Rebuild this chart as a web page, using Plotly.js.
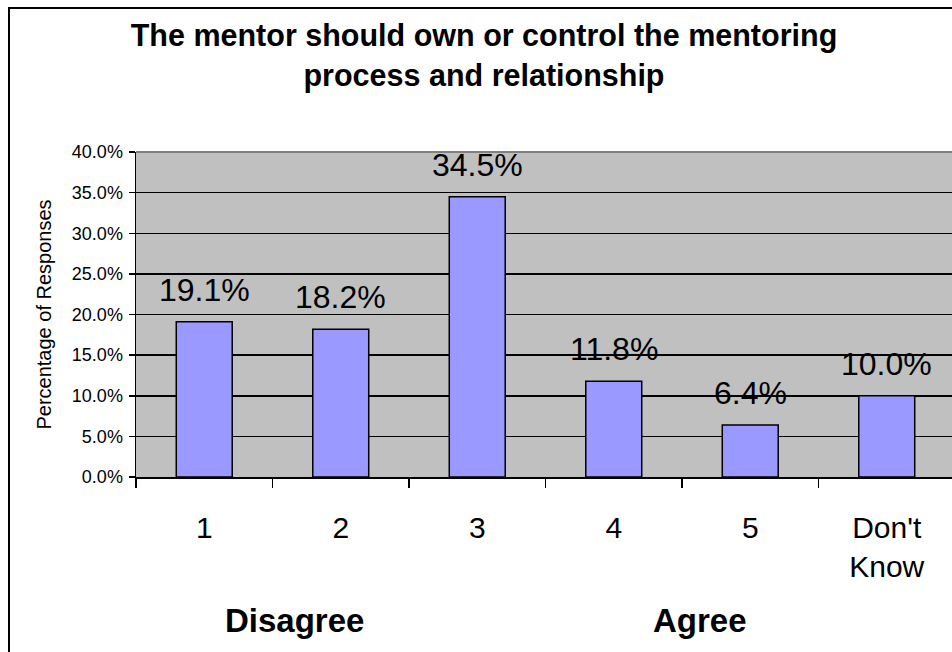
<!DOCTYPE html>
<html>
<head>
<meta charset="utf-8">
<script src="https://cdn.plot.ly/plotly-3.0.1.min.js"></script>
<style>
  html, body { margin: 0; padding: 0; overflow: hidden; background: #ffffff; }
  #chart { position: absolute; left: 0; top: 0; }
  #frame { position: absolute; left: 8px; top: 7px; width: 2000px; height: 2000px;
           border-left: 2px solid #000; border-top: 2px solid #000; pointer-events: none; }
</style>
</head>
<body>
<div id="chart"></div>
<div id="frame"></div>
<script>
const categories = ["1", "2", "3", "4", "5", "Don't<br>Know"];
const values = [19.1, 18.2, 34.5, 11.8, 6.4, 10.0];
const titleText = "The mentor should own or control the mentoring<br>process and relationship";
const yTitle = "Percentage of Responses";
const scaleLabels = [
  { text: "Disagree", at: 0.66 },
  { text: "Agree", at: 3.63 }
];

const W = 960, H = 680;
const plotL = 136, plotR = 955, plotT = 152, plotB = 477;
const FONT = "Liberation Sans, Arial, sans-serif";

const trace = {
  type: "bar",
  x: categories,
  y: values,
  marker: { color: "#9999FF", line: { color: "#000000", width: 1.5 } },
  width: 0.41,
  hoverinfo: "skip"
};

const labelAnns = values.map((v, i) => ({
  x: i, y: v, xref: "x", yref: "y",
  text: v.toFixed(1) + "%",
  showarrow: false, yanchor: "bottom", yshift: 12,
  font: { family: FONT, size: 32, color: "#000" }
}));

const scaleAnns = scaleLabels.map(s => ({
  x: s.at, y: 0, xref: "x", yref: "paper",
  text: "<b>" + s.text + "</b>", showarrow: false,
  yanchor: "middle", yshift: -143,
  font: { family: FONT, size: 33, color: "#000" }
}));

const layout = {
  width: W, height: H,
  margin: { l: plotL, r: W - plotR, t: plotT, b: H - plotB, pad: 0 },
  paper_bgcolor: "#ffffff",
  plot_bgcolor: "#C0C0C0",
  showlegend: false,
  title: {
    text: "<b>" + titleText + "</b>",
    xref: "container", yref: "container",
    x: 484 / W, xanchor: "center",
    y: 1 - 46 / H, yanchor: "top",
    font: { family: FONT, size: 30.5, color: "#000" }
  },
  xaxis: {
    type: "category",
    range: [-0.5, 5.5],
    tickson: "boundaries",
    ticks: "outside", ticklen: 9, tickwidth: 1.5, tickcolor: "#000",
    showline: true, linecolor: "#000", linewidth: 1.5,
    showgrid: false, zeroline: false,
    ticklabelstandoff: 23,
    tickfont: { family: FONT, size: 30, color: "#000" },
    fixedrange: true
  },
  yaxis: {
    range: [0, 40],
    dtick: 5, tick0: 0,
    tickformat: ".1f", ticksuffix: "%",
    ticks: "outside", ticklen: 6, tickwidth: 1.5, tickcolor: "#000",
    showline: true, linecolor: "#000", linewidth: 1.5,
    showgrid: true, gridcolor: "#000", gridwidth: 1.5,
    zeroline: false,
    ticklabelstandoff: 2,
    tickfont: { family: FONT, size: 18, color: "#000" },
    title: {
      text: yTitle, standoff: 15,
      font: { family: FONT, size: 20, color: "#000" }
    },
    fixedrange: true
  },
  annotations: labelAnns.concat(scaleAnns),
  shapes: [{
    type: "line", xref: "paper", yref: "paper",
    x0: 0, x1: 1, y0: 1, y1: 1,
    line: { color: "#808080", width: 2 }
  }]
};

Plotly.newPlot("chart", [trace], layout, { displayModeBar: false, staticPlot: true });
</script>
</body>
</html>
